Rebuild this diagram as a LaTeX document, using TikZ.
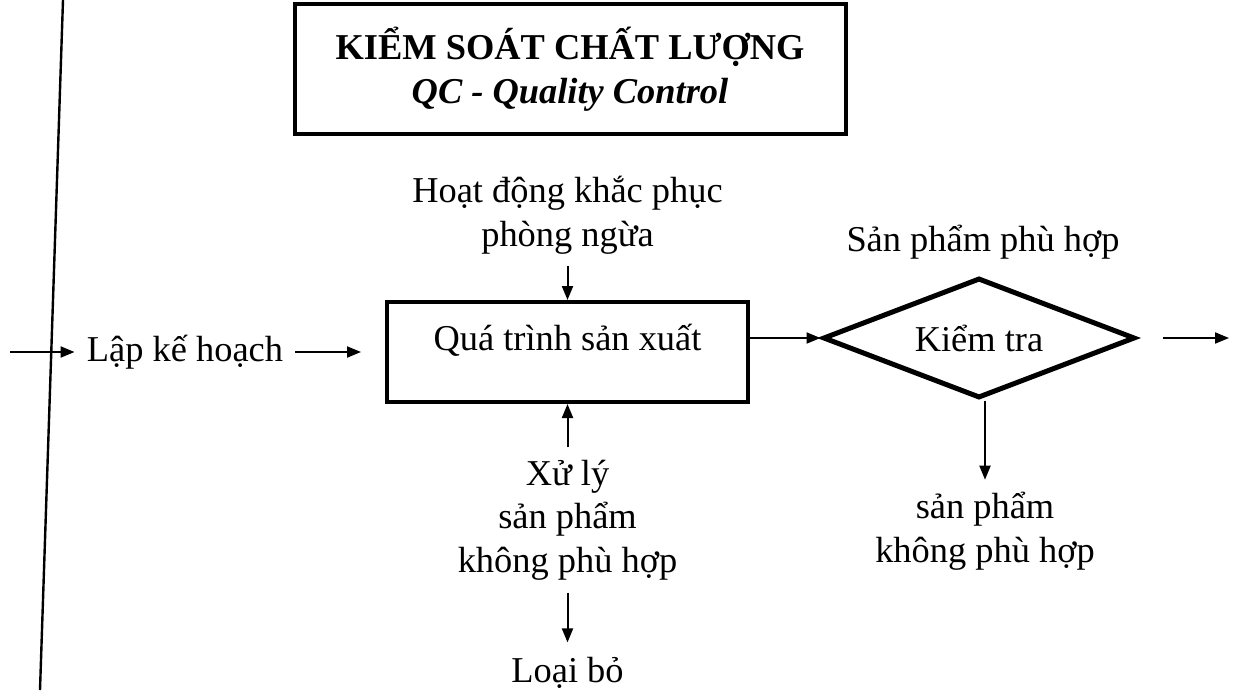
\documentclass[tikz,border=0pt]{standalone}
\usepackage{fontspec}
\setmainfont{Liberation Serif}
\usetikzlibrary{arrows.meta,shapes.geometric}
\newcommand{\bigtxt}{\fontsize{18.2}{21.8}\selectfont}
\tikzset{
  >={Triangle[length=7pt,width=5.5pt]},
  txt/.style={font=\bigtxt, align=center, inner sep=6pt},
  lbl/.style={txt, text height=13.6pt, text depth=4.6pt},
  header/.style={draw, line width=2pt, minimum width=275.5pt, minimum height=65pt,
              align=center, font=\bigtxt\bfseries},
  procbox/.style={draw, line width=2pt, minimum width=180.5pt, minimum height=50pt,
              font=\bigtxt, text height=9pt, text depth=10.6pt},
  decide/.style={diamond, aspect=2.6, draw, line width=2.5pt, minimum width=156pt,
              minimum height=60pt, inner sep=0pt, font=\bigtxt},
  flow/.style={->, line width=1pt},
  rule/.style={line width=1.2pt},
}

\begin{document}
\begin{tikzpicture}[x=0.5pt, y=-0.5pt]
  \useasboundingbox (0,0) rectangle (1234,690);
  % title
  \node[header] (title) at (570,69) {KIỂM SOÁT CHẤT LƯỢNG\\\textit{QC - Quality Control}};
  % main row
  \node[lbl] (plan) at (185,352) {Lập kế hoạch};
  \node[procbox] (proc) at (567.5,352) {Quá trình sản xuất};
  \node[decide] (check) at (979,338) {Kiểm tra};
  \coordinate (in) at (10,352);
  \coordinate (out) at (1229,338);
  % texts round the process
  \node[txt] (act) at (567.5,215) {Hoạt động khắc phục\\phòng ngừa};
  \node[txt] (fix) at (567.5,520) {Xử lý\\sản phẩm\\không phù hợp};
  \node[lbl] (drop) at (567.5,673) {Loại bỏ};
  \node[lbl] (pass) at (983,242) {Sản phẩm phù hợp};
  \node[txt] (reject) at (985,531) {sản phẩm\\không phù hợp};
  % separator on the left
  \draw[rule] (63,0) -- (40,690);
  \draw[flow] (in) -- (plan);
  \draw[flow, shorten >=12pt] (plan) -- (proc);
  \draw[flow] (act) -- (proc);
  \draw[flow] (fix) -- (proc);
  \draw[flow] (fix) -- (drop);
  \draw[flow] (proc.east |- check.west) -- (check.west);
  \draw[flow, shorten <=12.5pt] (check.east) -- (out);
  \draw[flow] (reject.north |- check.south) -- (reject.north);
\end{tikzpicture}
\end{document}
